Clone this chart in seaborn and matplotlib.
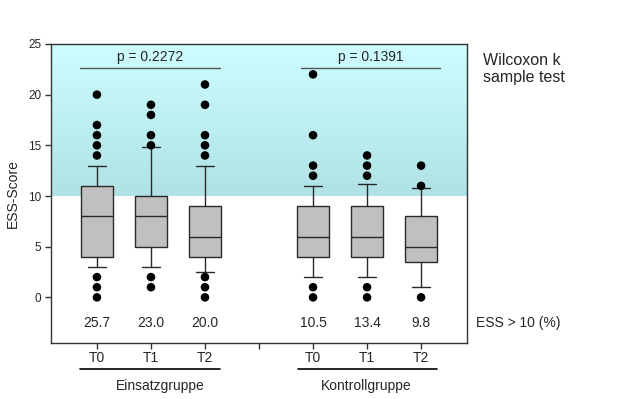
import numpy as np
import pandas as pd
import seaborn as sns
import matplotlib.pyplot as plt
import matplotlib.transforms as mtransforms
from matplotlib.colors import LinearSegmentedColormap

# summary values
groups = ["Einsatzgruppe", "Kontrollgruppe"]
times = ["T0", "T1", "T2"]
q1 = [4, 5, 4, 4, 4, 3.5]
med = [8, 8, 6, 6, 6, 5]
q3 = [11, 10, 9, 9, 9, 8]
whislo = [3, 3, 2.5, 2, 2, 1]
whishi = [13, 14.8, 13, 11, 11.2, 10.8]
fliers = [
    [20, 17, 16, 15, 14, 2, 1, 0],
    [19, 18, 16, 15, 2, 1],
    [21, 19, 16, 15, 14, 2, 1, 0],
    [22, 16, 13, 12, 1, 0],
    [14, 13, 12, 1, 0],
    [13, 11, 0],
]
pct_over10 = [25.7, 23.0, 20.0, 10.5, 13.4, 9.8]
p_values = ["p = 0.2272", "p = 0.1391"]

sns.set_theme(style="ticks")
plt.rcParams["font.family"] = ["Liberation Sans", "DejaVu Sans"]

fig = plt.figure(figsize=(6.4, 3.99), dpi=100)
ax = fig.add_axes([0.0797, 0.1404, 0.65, 0.7494])

# box positions: three per group, a gap between groups
pos = [i + (i >= 3) for i in range(6)]

# shaded band above ESS 10
cmap = LinearSegmentedColormap.from_list("band", ["#b0e2e5", "#cdfdff"])
grad = np.linspace(0, 1, 256).reshape(-1, 1)
ax.imshow(grad, extent=[-0.85, 6.85, 10, 25], origin="lower", aspect="auto",
          cmap=cmap, zorder=0)

stats = []
for i in range(6):
    stats.append(dict(q1=q1[i], med=med[i], q3=q3[i], whislo=whislo[i],
                      whishi=whishi[i], fliers=[]))
ax.bxp(stats, positions=pos, widths=0.6, patch_artist=True, showfliers=False,
       boxprops=dict(facecolor="#c0c0c0", edgecolor="#2a2a2a", linewidth=1.0),
       medianprops=dict(color="#2a2a2a", linewidth=1.0),
       whiskerprops=dict(color="#2a2a2a", linewidth=1.0),
       capprops=dict(color="#2a2a2a", linewidth=1.0), capwidths=0.32,
       manage_ticks=False, zorder=2)

out_df = pd.DataFrame([(pos[i], v) for i in range(6) for v in fliers[i]],
                      columns=["x", "score"])
sns.scatterplot(data=out_df, x="x", y="score", ax=ax, color="black", s=38,
                edgecolor="none", zorder=3)

for i in range(6):
    ax.text(pos[i], -2.55, f"{pct_over10[i]:.1f}", ha="center", va="center",
            fontsize=10)
ax.text(1.022, -2.55, "ESS > 10 (%)", transform=ax.get_yaxis_transform(),
        ha="left", va="center", fontsize=10, clip_on=False)

# p-value brackets
for (x0, x1), p in zip([(-0.31, 2.28), (3.77, 6.35)], p_values):
    ax.plot([x0, x1], [22.65, 22.65], color="#555555", lw=1.0, zorder=3)
    ax.text((x0 + x1) / 2, 23.75, p, ha="center", va="center", fontsize=10)

ax.set_xlim(-0.85, 6.85)
ax.set_ylim(-4.5, 25)
ax.set_yticks([0, 5, 10, 15, 20, 25])
ax.set_xticks(range(7))
ax.set_xticklabels(["T0", "T1", "T2", "", "T0", "T1", "T2"], fontsize=10)
ax.tick_params(axis="y", labelsize=8.5, length=4, width=1, color="#333333", pad=3)
ax.tick_params(axis="x", length=4, width=1, color="#333333", pad=2)
ax.set_xlabel("")
ax.set_ylabel("ESS-Score", fontsize=10, labelpad=6)
for s in ax.spines.values():
    s.set_visible(True)
    s.set_color("#333333")
    s.set_linewidth(1.0)

# group labels under the tick labels
trans = mtransforms.blended_transform_factory(ax.transData, ax.transAxes)
for (x0, x1), tx, g in zip([(-0.31, 2.28), (3.73, 6.3)], [1.17, 4.98], groups):
    ax.plot([x0, x1], [-0.087, -0.087], transform=trans, color="black",
            lw=1.2, clip_on=False)
    ax.text(tx, -0.145, g, transform=trans, ha="center", va="center",
            fontsize=10)

fig.text(0.754, 0.868, "Wilcoxon k\nsample test", ha="left", va="top",
         fontsize=11.5, linespacing=1.2)

fig.savefig("out.png", dpi=100)
